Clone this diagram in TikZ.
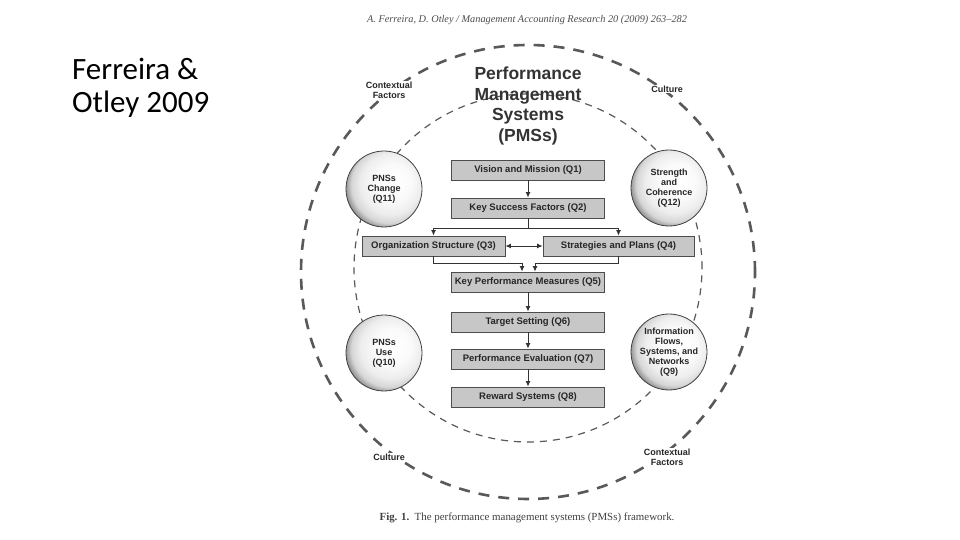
\documentclass[tikz,border=0pt]{standalone}
\usepackage{fontspec}
\setmainfont{Liberation Sans}
\newfontfamily\capfont{Liberation Serif}
\newfontfamily\slidefont{Carlito}
\usepackage{xcolor}
\usepackage{tikz}
\usetikzlibrary{arrows.meta}
\tikzset{arrow/.style = {> = {Latex[length = 1.9mm, width = 1.7mm]}}}
\usetikzlibrary{positioning}
\usetikzlibrary{calc}

\pgfdeclareradialshading{pmsball}{\pgfpoint{8bp}{6bp}}{color(0bp)=(white); color(12bp)=(gray!4); color(20bp)=(gray!14); color(25bp)=(gray!32); color(30bp)=(black!55); color(36bp)=(black!68); color(45bp)=(black!70)}

\tikzset{
  qbox/.style = {draw=black!70, line width=0.8pt, fill=black!22, minimum height=20pt,
    inner sep=0pt, font=\fontsize{9.5}{11}\selectfont\bfseries, text=black!85},
  qball/.style = {circle, draw=black!75, line width=0.8pt, minimum size=76pt, inner sep=0pt,
    shading=pmsball, align=center, font=\fontsize{9}{10}\selectfont\bfseries, text=black!85},
  ring/.style = {draw=black!65, line width=2.6pt, dash pattern=on 11pt off 9pt},
  innerring/.style = {draw=black!65, line width=1.2pt, dash pattern=on 7pt off 6pt},
  corner/.style = {fill=white, inner sep=1pt, align=center, font=\fontsize{9}{10}\selectfont\bfseries, text=black!85},
  link/.style = {arrow, draw=black!80, line width=0.9pt}
}

\begin{document}
\begin{tikzpicture}[x=1pt,y=1pt]
\definecolor{fillColor}{RGB}{255,255,255}
\path[use as bounding box,fill=fillColor] (0,0) rectangle (960,540);

% slide label and source line
\node[anchor=west, inner sep=0pt, align=left, font=\slidefont\fontsize{31}{33}\selectfont] (slide) at (72,452) {Ferreira \&\\Otley 2009};
\node[inner sep=0pt, font=\capfont\itshape\fontsize{10.3}{12}\selectfont, text=black!70] (source) at (527,520)
  {A. Ferreira, D. Otley / Management Accounting Research 20 (2009) 263–282};

% the two dashed rings
\draw[ring] (528,268) circle (227);
\draw[innerring] (528,272) circle (174);

% title
\node[align=center, inner sep=0pt, font=\fontsize{17.5}{20.6}\selectfont\bfseries, text=black!80] (title) at (528,434)
  {Performance\\Management\\Systems\\(PMSs)};

% labels on the outer ring
\node[corner] (ctxa) at (389,450) {Contextual\\Factors};
\node[corner] (cula) at (667,451) {Culture};
\node[corner] (culb) at (389,83) {Culture};
\node[corner] (ctxb) at (667,83) {Contextual\\Factors};

% circles on the inner ring
\node[qball] (q11) at (384,351) {PNSs\\Change\\(Q11)};
\node[qball] (q12) at (669,352) {Strength\\and\\Coherence\\(Q12)};
\node[qball] (q10) at (384,187) {PNSs\\Use\\(Q10)};
\node[qball] (q9) at (669,188) {Information\\Flows,\\Systems, and\\Networks\\(Q9)};

% the twelve questions
\node[qbox, minimum width=153pt] (q1) at (528,370) {Vision and Mission (Q1)};
\node[qbox, minimum width=153pt] (q2) at (528,332) {Key Success Factors (Q2)};
\node[qbox, minimum width=143pt] (q3) at (433.5,294) {Organization Structure (Q3)};
\node[qbox, minimum width=151pt] (q4) at (618.5,294) {Strategies and Plans (Q4)};
\node[qbox, minimum width=153pt] (q5) at (528,258) {Key Performance Measures (Q5)};
\node[qbox, minimum width=153pt] (q6) at (528,218) {Target Setting (Q6)};
\node[qbox, minimum width=153pt] (q7) at (528,181) {Performance Evaluation (Q7)};
\node[qbox, minimum width=153pt] (q8) at (528,143) {Reward Systems (Q8)};

\coordinate (split) at (528,312);
\coordinate (joina) at (522,277);
\coordinate (joinb) at (535,277);

\draw[link,->] (q1) -- (q2);
\draw[link] (q2) -- (split);
\draw[link,->] (split) -| (q3.north);
\draw[link,->] (split) -| (q4.north);
\draw[link,<->] (q3) -- (q4);
\draw[link,->] (q3.south) |- (joina) -- (joina |- q5.north);
\draw[link,->] (q4.south) |- (joinb) -- (joinb |- q5.north);
\draw[link,->] (q5) -- (q6);
\draw[link,->] (q6) -- (q7);
\draw[link,->] (q7) -- (q8);

% caption
\node[inner sep=0pt, font=\capfont\fontsize{10.9}{13}\selectfont, text=black!75] (caption) at (527,22)
  {\textbf{Fig. 1.}\enspace The performance management systems (PMSs) framework.};
\end{tikzpicture}
\end{document}
